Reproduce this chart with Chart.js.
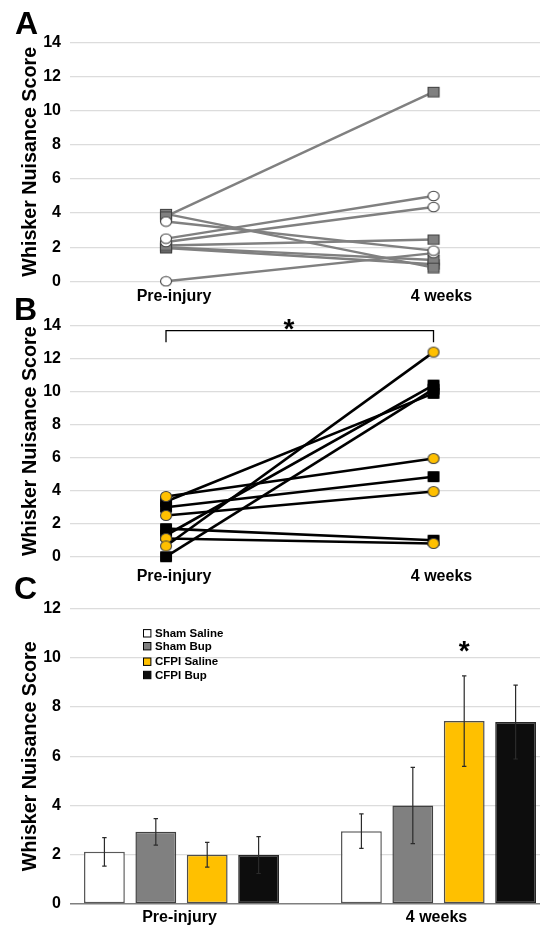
<!DOCTYPE html>
<html>
<head>
<meta charset="utf-8">
<script src="https://cdn.jsdelivr.net/npm/chart.js@4.4.1/dist/chart.umd.min.js"></script>
<style>
  html, body { margin: 0; padding: 0; background: #fff; overflow: hidden; }
  #page { position: relative; width: 540px; height: 929px; }
  .panel { position: absolute; left: 0; width: 540px; }
  .letter { position: absolute; font: bold 32px 'Liberation Sans', Arial, sans-serif; line-height: 32px; color: #000; z-index: 2; }
</style>
</head>
<body>
<div id="page">
  <div class="panel" style="top:0;height:305px"><canvas id="chartA"></canvas></div>
  <div class="panel" style="top:305px;height:285px"><canvas id="chartB"></canvas></div>
  <div class="panel" style="top:590px;height:339px"><canvas id="chartC"></canvas></div>
  <div class="letter" style="left:15px;top:7px">A</div>
  <div class="letter" style="left:14px;top:293px">B</div>
  <div class="letter" style="left:14px;top:572px">C</div>
</div>
<script>
Chart.defaults.font.family = "'Liberation Sans', Arial, Helvetica, sans-serif";
Chart.defaults.color = "#000";

var categories = ["Pre-injury", "4 weeks"];
var yTitle = "Whisker Nuisance Score";

// Panel A - each subject: value at pre-injury and at 4 weeks
var shamSalinePre = [3.5, 2.5, 2.3, 0.0];
var shamSalineWeek4 = [1.8, 5.0, 4.35, 1.65];
var shamBupPre = [3.8, 3.95, 2.1, 2.0, 1.95];
var shamBupWeek4 = [11.1, 0.8, 2.45, 1.25, 1.0];

// Panel B
var cfpiSalinePre = [3.65, 2.5, 0.65, 1.1];
var cfpiSalineWeek4 = [5.95, 3.95, 12.4, 0.8];
var cfpiBupPre = [3.35, 3.0, 1.7, 1.3, 0.0];
var cfpiBupWeek4 = [9.9, 4.85, 1.0, 10.4, 10.15];

// Panel C - group means and error (one value per group)
var groupNames = ["Sham Saline", "Sham Bup", "CFPI Saline", "CFPI Bup"];
var meanPre = [2.12, 2.93, 2.0, 1.99];
var meanWeek4 = [2.96, 4.0, 7.43, 7.39];
var errPre = [0.58, 0.54, 0.5, 0.75];
var errWeek4 = [0.7, 1.55, 1.84, 1.5];

// significance marks
var bracketLevel = 13.7;
var bracketDrop = 13.0;
var starLevelB = 14.2;
var starLevelC = 10.56;

//Colours
var barFills = ["#ffffff", "#808080", "#ffc000", "#0d0d0d"];
var barBorders = ["#595959", "#404040", "#4d4d4d", "#262626"];

//Builds a small canvas used as a point marker (the picture's markers are a little flattened)
function makeMarker(shape, w, h, fill, stroke, lw) {
    var c = document.createElement("canvas");
    c.width = w + 2;
    c.height = h + 2;
    var g = c.getContext("2d");
    g.fillStyle = fill;
    g.strokeStyle = stroke;
    g.lineWidth = lw;
    g.beginPath();
    if (shape == "circle") {
        g.ellipse(c.width / 2, c.height / 2, w / 2 - 0.5, h / 2 - 0.5, 0, 0, Math.PI * 2);
    } else {
        g.rect(1.5, 1.5, w - 1, h - 1);
    }
    g.fill();
    g.stroke();
    return c;
}

//One dataset per subject, joining pre-injury and 4 weeks
function subjectSets(pre, week4, marker, lineColor, lineWidth) {
    return pre.map(function (p, i) {
        return {
            data: [{x: 0, y: p}, {x: 1, y: week4[i]}],
            borderColor: lineColor,
            borderWidth: lineWidth,
            pointStyle: marker,
            pointRadius: 6,
            pointHoverRadius: 6,
            fill: false,
            tension: 0,
            clip: false
        };
    });
}

function yAxis(maxVal, zeroColor) {
    return {
        min: 0,
        max: maxVal,
        ticks: {stepSize: 2, padding: 9, font: {size: 16, weight: "bold"}, color: "#000"},
        grid: {
            drawTicks: false,
            color: function (ctx) {
                return (zeroColor && ctx.tick && ctx.tick.value === 0) ? zeroColor : "#dcdcdc";
            },
            lineWidth: function (ctx) {
                return (zeroColor && ctx.tick && ctx.tick.value === 0) ? 1.6 : 1.2;
            }
        },
        border: {display: false},
        title: {display: true, text: yTitle, color: "#000", font: {size: 19.7, weight: "bold"}, padding: {top: 18.6, bottom: 0}},
        afterFit: function (scale) { scale.width = 70; }
    };
}

function xAxis(min, max, pad, height, labelOffset) {
    return {
        type: "linear",
        min: min,
        max: max,
        offset: false,
        afterBuildTicks: function (scale) {
            scale.ticks = categories.map(function (c, i) { return {value: i}; });
        },
        ticks: {
            padding: pad,
            labelOffset: labelOffset,
            maxRotation: 0,
            autoSkip: false,
            color: "#000",
            font: {size: 16, weight: "bold"},
            callback: function (v) { return categories[v]; }
        },
        grid: {display: false, drawTicks: false},
        border: {display: false},
        afterFit: function (scale) { scale.height = height; }
    };
}

function baseOptions(topPad, xScale, yScale) {
    return {
        responsive: true,
        maintainAspectRatio: false,
        animation: false,
        events: [],
        layout: {autoPadding: false, padding: {top: topPad, left: 0, right: 0, bottom: 0}},
        plugins: {legend: {display: false}, tooltip: {enabled: false}},
        scales: {x: xScale, y: yScale}
    };
}

//Draws an asterisk centred on a point
function drawStar(ctx, x, y) {
    ctx.save();
    ctx.fillStyle = "#000";
    ctx.font = "bold 28px 'Liberation Sans', Arial, sans-serif";
    ctx.textAlign = "center";
    ctx.textBaseline = "alphabetic";
    ctx.fillText("*", x, y + 0.56 * 28);
    ctx.restore();
}

var bracketPlugin = {
    id: "bracket",
    afterDatasetsDraw: function (chart) {
        var ctx = chart.ctx, xs = chart.scales.x, ys = chart.scales.y;
        var x0 = xs.getPixelForValue(0), x1 = xs.getPixelForValue(1);
        var top = ys.getPixelForValue(bracketLevel), low = ys.getPixelForValue(bracketDrop);
        ctx.save();
        ctx.strokeStyle = "#000";
        ctx.lineWidth = 1.3;
        ctx.beginPath();
        ctx.moveTo(x0, low);
        ctx.lineTo(x0, top);
        ctx.lineTo(x1, top);
        ctx.lineTo(x1, low);
        ctx.stroke();
        ctx.restore();
        drawStar(ctx, xs.getPixelForValue(0.46), ys.getPixelForValue(starLevelB));
    }
};

var errorBarPlugin = {
    id: "errorBars",
    afterDatasetsDraw: function (chart) {
        var ctx = chart.ctx, ys = chart.scales.y;
        ctx.save();
        ctx.strokeStyle = "#2b2b2b";
        ctx.lineWidth = 1.2;
        chart.data.datasets.forEach(function (ds, g) {
            chart.getDatasetMeta(g).data.forEach(function (bar, i) {
                var v = ds.data[i].y, e = ds.errors[i];
                var top = ys.getPixelForValue(v + e), bot = ys.getPixelForValue(v - e);
                ctx.beginPath();
                ctx.moveTo(bar.x, top);
                ctx.lineTo(bar.x, bot);
                ctx.moveTo(bar.x - 2.2, top);
                ctx.lineTo(bar.x + 2.2, top);
                ctx.moveTo(bar.x - 2.2, bot);
                ctx.lineTo(bar.x + 2.2, bot);
                ctx.stroke();
            });
        });
        ctx.restore();
        var star = chart.getDatasetMeta(2).data[1];
        drawStar(ctx, star.x, ys.getPixelForValue(starLevelC));
    }
};

var boxLegendPlugin = {
    id: "boxLegend",
    afterDraw: function (chart) {
        var ctx = chart.ctx;
        var rows = [43.3, 56.2, 71.7, 85];
        ctx.save();
        ctx.font = "bold 11.5px 'Liberation Sans', Arial, sans-serif";
        ctx.textBaseline = "middle";
        ctx.textAlign = "left";
        chart.data.datasets.forEach(function (ds, g) {
            var y = rows[g];
            ctx.fillStyle = ds.backgroundColor;
            ctx.fillRect(143.5, y - 3.7, 7.4, 7.4);
            ctx.strokeStyle = "#000";
            ctx.lineWidth = 1;
            ctx.strokeRect(143.5, y - 3.7, 7.4, 7.4);
            ctx.fillStyle = "#000";
            ctx.fillText(ds.label, 155, y + 0.5);
        });
        ctx.restore();
    }
};

//Panel A
var whiteCircle = makeMarker("circle", 12, 10.5, "#ffffff", "#404040", 1.1);
var graySquare = makeMarker("rect", 12, 10.5, "#808080", "#404040", 1.1);
var setsA = subjectSets(shamSalinePre, shamSalineWeek4, whiteCircle, "#808080", 2.4)
    .concat(subjectSets(shamBupPre, shamBupWeek4, graySquare, "#808080", 2.4));

new Chart("chartA", {
    type: "line",
    data: {datasets: setsA},
    options: baseOptions(42.3, xAxis(-0.3589, 1.3981, 6, 23.7, 8), yAxis(14))
});

//Panel B
var yellowCircle = makeMarker("circle", 12, 11, "#ffc000", "#404040", 1.1);
var blackSquare = makeMarker("rect", 12, 11, "#000000", "#000000", 1);
var setsB = subjectSets(cfpiSalinePre, cfpiSalineWeek4, yellowCircle, "#000000", 2.6)
    .concat(subjectSets(cfpiBupPre, cfpiBupWeek4, blackSquare, "#000000", 2.6));

new Chart("chartB", {
    type: "line",
    data: {datasets: setsB},
    options: baseOptions(20.7, xAxis(-0.3589, 1.3981, 10.5, 33.3, 8), yAxis(14)),
    plugins: [bracketPlugin]
});

//Panel C
var setsC = groupNames.map(function (name, g) {
    return {
        label: name,
        data: [{x: 0, y: meanPre[g]}, {x: 1, y: meanWeek4[g]}],
        errors: [errPre[g], errWeek4[g]],
        backgroundColor: barFills[g],
        borderColor: barBorders[g],
        borderWidth: 1.5,
        borderSkipped: false,
        categoryPercent: 0.7253,
        barPercentage: 0.794
    };
});

new Chart("chartC", {
    type: "bar",
    data: {datasets: setsC},
    options: baseOptions(14, xAxis(-0.4339, 1.3949, 4.4, 25, -2), yAxis(12, "#7f7f7f")),
    plugins: [errorBarPlugin, boxLegendPlugin]
});
</script>
</body>
</html>
